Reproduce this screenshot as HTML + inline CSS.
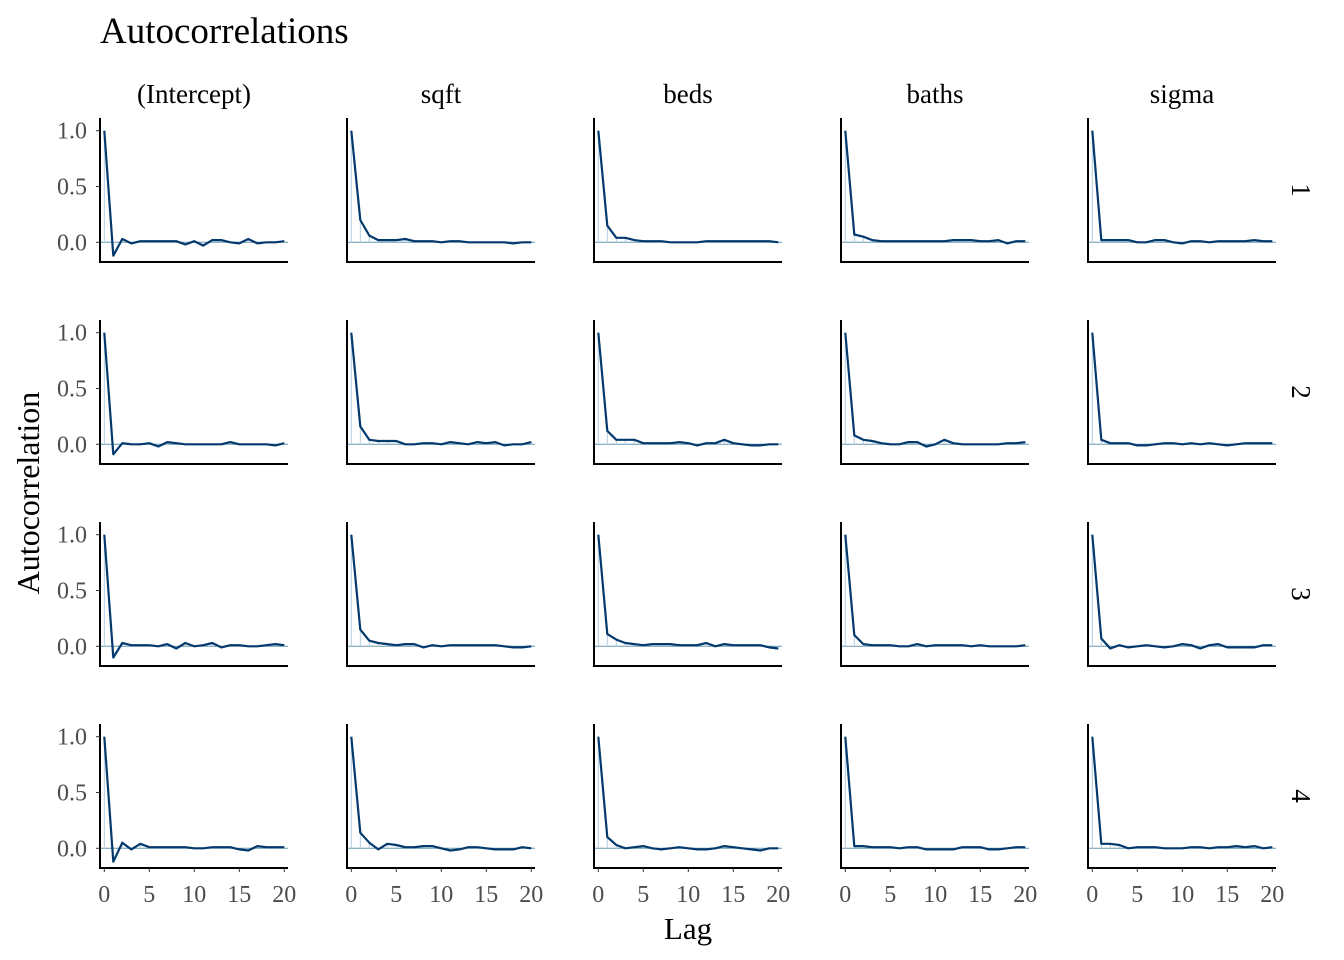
<!DOCTYPE html>
<html><head><meta charset="utf-8"><style>
html,body{margin:0;padding:0;background:#fff;}
svg{display:block;font-family:"Liberation Serif",serif;}
</style></head><body>
<svg id="chart" width="1344" height="960" viewBox="0 0 1344 960" xmlns="http://www.w3.org/2000/svg">
<text x="100" y="43" font-size="37" fill="#000">Autocorrelations</text>
<text x="688" y="939" font-size="31" text-anchor="middle">Lag</text>
<text transform="translate(39,493) rotate(-90)" font-size="32" text-anchor="middle">Autocorrelation</text>
</svg>
<script>
const params = ["(Intercept)","sqft","beds","baths","sigma"];
const chains = ["1","2","3","4"];
const yTicks = [0,0.5,1.0];
const yTickLabels = ["0.0","0.5","1.0"];
const xTicks = [0,5,10,15,20];
const acfIntercept = [
[1,-0.12,0.03,-0.01,0.01,0.01,0.01,0.01,0.01,-0.02,0.01,-0.03,0.02,0.02,0.0,-0.01,0.03,-0.01,0,0,0.01],
[1,-0.09,0.01,0,0,0.01,-0.02,0.02,0.01,0,0,0,0,0,0.02,0,0,0,0,-0.01,0.01],
[1,-0.1,0.03,0.01,0.01,0.01,0,0.02,-0.02,0.03,0,0.01,0.03,-0.01,0.01,0.01,0,0,0.01,0.02,0.01],
[1,-0.12,0.05,-0.01,0.04,0.01,0.01,0.01,0.01,0.01,0,0,0.01,0.01,0.01,-0.01,-0.02,0.02,0.01,0.01,0.01]];
const acfSqft = [
[1,0.2,0.06,0.02,0.02,0.02,0.03,0.01,0.01,0.01,0,0.01,0.01,0,0,0,0,0,-0.01,0,0],
[1,0.16,0.04,0.03,0.03,0.03,0.0,0,0.01,0.01,0,0.02,0.01,0,0.02,0.01,0.02,-0.01,0,0,0.02],
[1,0.15,0.05,0.03,0.02,0.01,0.02,0.02,-0.01,0.01,0,0.01,0.01,0.01,0.01,0.01,0.01,0,-0.01,-0.01,0],
[1,0.14,0.05,-0.01,0.04,0.03,0.01,0.01,0.02,0.02,0,-0.02,-0.01,0.01,0.01,0,-0.01,-0.01,-0.01,0.01,0]];
const acfBeds = [
[1,0.15,0.04,0.04,0.02,0.01,0.01,0.01,0,0,0,0,0.01,0.01,0.01,0.01,0.01,0.01,0.01,0.01,0],
[1,0.12,0.04,0.04,0.04,0.01,0.01,0.01,0.01,0.02,0.01,-0.01,0.01,0.01,0.04,0.01,0,-0.01,-0.01,0,0],
[1,0.11,0.06,0.03,0.02,0.01,0.02,0.02,0.02,0.01,0.01,0.01,0.03,0,0.02,0.01,0.01,0.01,0.01,-0.01,-0.02],
[1,0.1,0.03,0,0.01,0.02,0,-0.01,0,0.01,0,-0.01,-0.01,0,0.02,0.01,0,-0.01,-0.02,0,0]];
const acfBaths = [
[1,0.07,0.05,0.02,0.01,0.01,0.01,0.01,0.01,0.01,0.01,0.01,0.02,0.02,0.02,0.01,0.01,0.02,-0.01,0.01,0.01],
[1,0.08,0.04,0.03,0.01,0,0,0.02,0.02,-0.02,0,0.04,0.01,0,0,0,0,0,0.01,0.01,0.02],
[1,0.1,0.02,0.01,0.01,0.01,0,0,0.02,0,0.01,0.01,0.01,0.01,0,0.01,0,0,0,0,0.01],
[1,0.02,0.02,0.01,0.01,0.01,0,0.01,0.01,-0.01,-0.01,-0.01,-0.01,0.01,0.01,0.01,-0.01,-0.01,0,0.01,0.01]];
const acfSigma = [
[1,0.02,0.02,0.02,0.02,0,0,0.02,0.02,0,-0.01,0.01,0.01,0,0.01,0.01,0.01,0.01,0.02,0.01,0.01],
[1,0.04,0.01,0.01,0.01,-0.01,-0.01,0,0.01,0.01,0,0.01,0,0.01,0,-0.01,0,0.01,0.01,0.01,0.01],
[1,0.07,-0.02,0.01,-0.01,0,0.01,0,-0.01,0,0.02,0.01,-0.02,0.01,0.02,-0.01,-0.01,-0.01,-0.01,0.01,0.01],
[1,0.04,0.04,0.03,0,0.01,0.01,0.01,0,0,0,0.01,0.01,0,0.01,0.01,0.02,0.01,0.02,0,0.01]];
const allAcf = [acfIntercept,acfSqft,acfBeds,acfBaths,acfSigma];

const NS="http://www.w3.org/2000/svg";
const svg=document.getElementById('chart');
function mk(tag,attrs,parent){const e=document.createElementNS(NS,tag);for(const k in attrs)e.setAttribute(k,attrs[k]);(parent||svg).appendChild(e);return e;}
const PW=188, PX0=100, DX=247, DY=202;
function xs(c,lag){return PX0+DX*c+4.3+9*lag;}
function ys(r,v){return 242.3+DY*r-111.6*v;}

params.forEach((p,c)=>{
  const t=mk('text',{x:PX0+DX*c+PW/2,y:103,'font-size':27,'text-anchor':'middle',fill:'#000'});
  
  
  t.textContent=p;
});
chains.forEach((ch,r)=>{
  const yc=190+DY*r;
  const t=mk('text',{transform:`translate(1292,${yc}) rotate(90)`,'font-size':27,'text-anchor':'middle',fill:'#000'});
  
  
  t.textContent=ch;
});

for(let c=0;c<params.length;c++){
  for(let r=0;r<chains.length;r++){
    const g=mk('g',{});
    
    
    const x0=PX0+DX*c, top=118+DY*r, bot=262+DY*r;
    const vals=allAcf[c][r];
    const bl=mk('line',{x1:x0,x2:x0+PW,y1:ys(r,0),y2:ys(r,0),stroke:'#6497b1','stroke-width':1},g);
    
    
    vals.forEach((v,l)=>{
      const b=mk('line',{x1:xs(c,l),x2:xs(c,l),y1:ys(r,0),y2:ys(r,v),stroke:'#b3cde0','stroke-width':1},g);
      
      
    });
    const pts=vals.map((v,l)=>xs(c,l).toFixed(1)+','+ys(r,v).toFixed(1)).join(' ');
    const pl=mk('polyline',{points:pts,fill:'none',stroke:'#03396c','stroke-width':2.2,'stroke-linejoin':'round'},g);
    
    
    const ya=mk('line',{x1:x0,x2:x0,y1:top,y2:bot,stroke:'#000','stroke-width':2},g);
    
    
    const xa=mk('line',{x1:x0-1,x2:x0+PW,y1:bot,y2:bot,stroke:'#000','stroke-width':2},g);
    
    
    if(c===0){
      yTicks.forEach((tv,i)=>{
        const tk=mk('line',{x1:x0-4,x2:x0,y1:ys(r,tv),y2:ys(r,tv),stroke:'#333','stroke-width':1},g);
        
        
        const tl=mk('text',{x:x0-13,y:ys(r,tv)+8,'font-size':24,'text-anchor':'end',fill:'#4d4d4d'},g);
        
        
        tl.textContent=yTickLabels[i];
      });
    }
    if(r===chains.length-1){
      xTicks.forEach(tv=>{
        const tk=mk('line',{x1:xs(c,tv),x2:xs(c,tv),y1:bot,y2:bot+4,stroke:'#333','stroke-width':1},g);
        
        
        const tl=mk('text',{x:xs(c,tv),y:bot+34,'font-size':24,'text-anchor':'middle',fill:'#4d4d4d'},g);
        
        
        tl.textContent=tv;
      });
    }
  }
}
</script>
</body></html>
